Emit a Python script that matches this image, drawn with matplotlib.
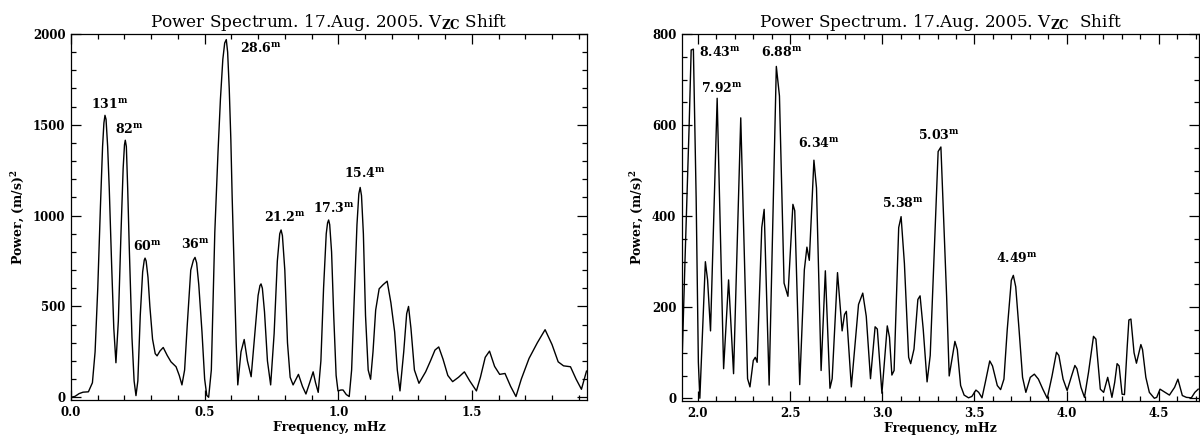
import matplotlib
matplotlib.use("Agg")
import matplotlib.pyplot as plt
from matplotlib.ticker import MultipleLocator

plt.rcParams["font.family"] = "DejaVu Serif"
plt.rcParams["mathtext.fontset"] = "dejavuserif"

# low frequency part of the spectrum, mHz and (m/s)^2
freq_low = [0.000, 0.015, 0.030, 0.045, 0.065, 0.080, 0.090, 0.100, 0.110, 0.118,
            0.123, 0.127, 0.131, 0.137, 0.143, 0.152, 0.160, 0.168, 0.177, 0.187,
            0.195, 0.200, 0.203, 0.207, 0.212, 0.218, 0.228, 0.236, 0.243, 0.250,
            0.259, 0.268, 0.274, 0.277, 0.281, 0.288, 0.295, 0.305, 0.315, 0.322,
            0.333, 0.345, 0.360, 0.374, 0.393, 0.405, 0.415, 0.425, 0.435, 0.448,
            0.458, 0.464, 0.470, 0.478, 0.490, 0.500, 0.508, 0.515, 0.525, 0.538,
            0.550, 0.559, 0.568, 0.575, 0.581, 0.586, 0.592, 0.598, 0.603, 0.610,
            0.618, 0.624, 0.636, 0.648, 0.660, 0.674, 0.688, 0.700, 0.707, 0.711,
            0.716, 0.724, 0.735, 0.747, 0.760, 0.772, 0.781, 0.786, 0.791, 0.800,
            0.810, 0.820, 0.831, 0.851, 0.866, 0.879, 0.893, 0.906, 0.915, 0.925,
            0.935, 0.945, 0.955, 0.960, 0.964, 0.968, 0.975, 0.983, 0.992, 0.999,
            1.010, 1.018, 1.030, 1.041, 1.050, 1.060, 1.070, 1.077, 1.082, 1.087,
            1.094, 1.102, 1.112, 1.121, 1.130, 1.140, 1.153, 1.168, 1.183, 1.197,
            1.211, 1.221, 1.231, 1.245, 1.256, 1.263, 1.272, 1.285, 1.302, 1.315,
            1.327, 1.345, 1.362, 1.376, 1.392, 1.410, 1.428, 1.450, 1.472, 1.492,
            1.517, 1.532, 1.550, 1.566, 1.585, 1.604, 1.624, 1.645, 1.665, 1.685,
            1.714, 1.745, 1.774, 1.800, 1.823, 1.843, 1.869, 1.890, 1.910, 1.929]
power_low = [0, 5, 20, 28, 30, 80, 250, 600, 1050, 1380,
             1510, 1552, 1530, 1380, 1150, 725, 380, 190, 420, 908,
             1260, 1390, 1415, 1380, 1150, 820, 330, 90, 9, 90,
             450, 690, 755, 766, 750, 660, 500, 320, 240, 228,
             255, 274, 230, 195, 168, 120, 68, 150, 400, 700,
             755, 770, 740, 620, 360, 100, 10, 0, 150, 908,
             1350, 1640, 1860, 1950, 1969, 1900, 1700, 1420, 1100, 725,
             300, 68, 250, 318, 200, 113, 350, 560, 615, 624,
             600, 470, 200, 68, 350, 750, 900, 921, 890, 700,
             300, 110, 68, 126, 60, 18, 80, 140, 80, 27,
             200, 600, 900, 960, 976, 950, 800, 450, 120, 35,
             40, 40, 15, 4, 150, 550, 950, 1120, 1155, 1110,
             900, 450, 150, 99, 250, 480, 597, 620, 639, 520,
             360, 150, 35, 250, 460, 500, 380, 150, 77, 110,
             140, 200, 260, 277, 210, 120, 86, 110, 140, 90,
             35, 110, 220, 254, 170, 126, 131, 60, 4, 100,
             214, 300, 372, 290, 195, 173, 168, 100, 44, 144]

# high frequency part
freq_high = [1.913, 1.929, 1.952, 1.963, 1.975, 1.990, 2.002, 2.010, 2.040, 2.052,
             2.068, 2.104, 2.139, 2.166, 2.193, 2.232, 2.269, 2.282, 2.300, 2.311,
             2.321, 2.346, 2.359, 2.386, 2.425, 2.442, 2.467, 2.488, 2.515, 2.525,
             2.552, 2.577, 2.591, 2.604, 2.629, 2.643, 2.668, 2.691, 2.716, 2.728,
             2.757, 2.782, 2.795, 2.805, 2.832, 2.871, 2.894, 2.913, 2.936, 2.961,
             2.973, 2.998, 3.027, 3.039, 3.052, 3.064, 3.089, 3.102, 3.120, 3.143,
             3.154, 3.172, 3.193, 3.205, 3.222, 3.243, 3.260, 3.286, 3.303, 3.318,
             3.332, 3.349, 3.363, 3.394, 3.407, 3.425, 3.444, 3.468, 3.486, 3.508,
             3.523, 3.541, 3.559, 3.583, 3.598, 3.624, 3.642, 3.660, 3.678, 3.700,
             3.711, 3.724, 3.742, 3.761, 3.779, 3.803, 3.825, 3.847, 3.871, 3.895,
             3.921, 3.945, 3.958, 3.981, 4.003, 4.027, 4.045, 4.056, 4.078, 4.097,
             4.119, 4.146, 4.159, 4.183, 4.201, 4.223, 4.237, 4.246, 4.261, 4.274,
             4.285, 4.301, 4.314, 4.329, 4.338, 4.349, 4.366, 4.379, 4.403, 4.412,
             4.430, 4.449, 4.476, 4.489, 4.507, 4.531, 4.558, 4.586, 4.604, 4.628,
             4.650, 4.677, 4.696, 4.714]
power_high = [72, 296, 599, 765, 767, 440, 79, 0, 300, 260,
              148, 659, 65, 260, 54, 616, 43, 25, 83, 90,
              79, 375, 415, 29, 729, 664, 253, 224, 426, 412,
              30, 282, 332, 303, 523, 462, 61, 280, 22, 43,
              276, 148, 184, 191, 25, 206, 231, 180, 43, 157,
              152, 11, 159, 134, 51, 61, 375, 399, 296, 90,
              76, 108, 217, 225, 152, 36, 94, 368, 542, 552,
              404, 224, 49, 125, 107, 28, 7, 1, 4, 18,
              13, 1, 35, 82, 71, 28, 19, 42, 151, 259,
              270, 245, 151, 46, 13, 46, 53, 42, 20, 0,
              49, 101, 94, 42, 17, 49, 72, 65, 24, 2,
              57, 136, 130, 20, 13, 46, 20, 2, 35, 76,
              71, 9, 8, 114, 172, 174, 100, 77, 118, 107,
              46, 13, 0, 2, 20, 14, 7, 24, 42, 6,
              2, 1, 13, 20]

# peak labels (periods in minutes)
labels_low = ["131", "82", "60", "36", "28.6", "21.2", "17.3", "15.4"]
labels_high = ["8.43", "7.92", "6.88", "6.34", "5.38", "5.03", "4.49"]

# where the labels sit
pos_low = [(0.143, 1612), (0.217, 1475), (0.285, 835), (0.467, 845),
           (0.710, 1923), (0.800, 990), (0.982, 1040), (1.100, 1234)]
pos_high = [(2.120, 760), (2.131, 682), (2.452, 760), (2.654, 560),
            (3.114, 430), (3.305, 579), (3.728, 309)]

fig = plt.figure(figsize=(12, 4.41), dpi=100)
ax1 = fig.add_axes([0.0592, 0.093, 0.430, 0.830])
ax2 = fig.add_axes([0.5683, 0.0907, 0.4308, 0.832])


def style_axis(ax, xmaj, xmin, ymaj, ymin):
    ax.xaxis.set_major_locator(MultipleLocator(xmaj))
    ax.xaxis.set_minor_locator(MultipleLocator(xmin))
    ax.yaxis.set_major_locator(MultipleLocator(ymaj))
    ax.yaxis.set_minor_locator(MultipleLocator(ymin))
    ax.tick_params(which="both", direction="in", top=True, right=True, width=0.9)
    ax.tick_params(which="major", length=7, pad=4)
    ax.tick_params(which="minor", length=3.6)
    ax.xaxis.set_major_formatter(matplotlib.ticker.FormatStrFormatter("%.1f"))
    for lab in ax.get_xticklabels() + ax.get_yticklabels():
        lab.set_fontweight("bold")
        lab.set_fontsize(8.5)
    for sp in ax.spines.values():
        sp.set_linewidth(0.9)
    ax.set_xlabel("Frequency, mHz", fontsize=9, fontweight="bold", labelpad=2)
    ax.set_ylabel(r"Power, (m/s)$^{\mathbf{2}}$", fontsize=9, fontweight="bold")


# left panel
ax1.plot(freq_low, power_low, color="black", linewidth=1.0)
ax1.set_xlim(0, 1.931)
ax1.set_ylim(-15, 2000)
style_axis(ax1, 0.5, 0.1, 500, 100)
ax1.set_title(r"Power Spectrum. 17.Aug. 2005. V$_{\mathbf{ZC}}$ Shift", fontsize=12.2, pad=5)
for lab, (x, y) in zip(labels_low, pos_low):
    ax1.text(x, y, lab + r"$^{\mathbf{m}}$", ha="center", va="center",
             fontsize=9, fontweight="bold")

# right panel
ax2.plot(freq_high, power_high, color="black", linewidth=1.0)
ax2.set_xlim(1.913, 4.718)
ax2.set_ylim(-6, 800)
style_axis(ax2, 0.5, 0.1, 200, 50)
ax2.set_title(r"Power Spectrum. 17.Aug. 2005. V$_{\mathbf{ZC}}$  Shift", fontsize=12.2, pad=5)
for lab, (x, y) in zip(labels_high, pos_high):
    ax2.text(x, y, lab + r"$^{\mathbf{m}}$", ha="center", va="center",
             fontsize=9, fontweight="bold")

fig.savefig("out.png", dpi=100)
